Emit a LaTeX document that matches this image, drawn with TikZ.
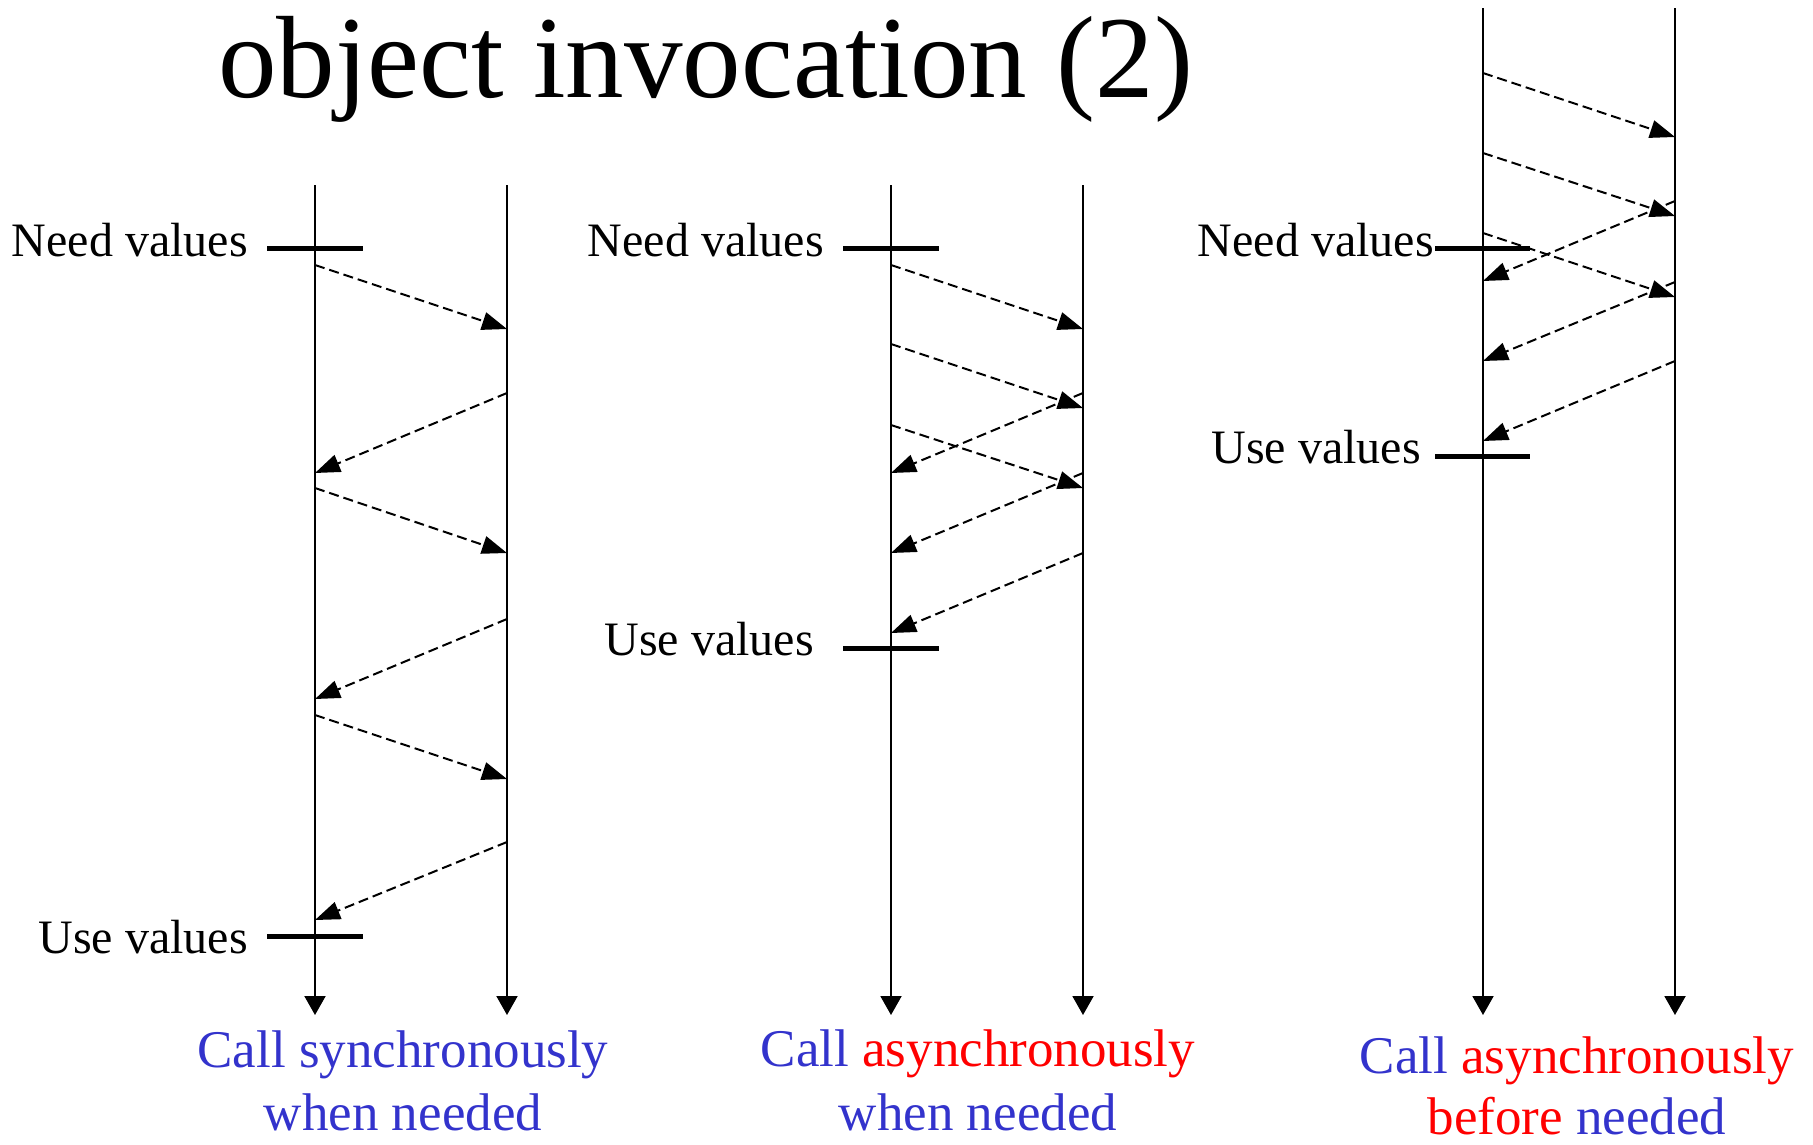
\documentclass[tikz,border=0pt]{standalone}
\usepackage{fontspec}
\setmainfont{Liberation Serif}
\usetikzlibrary{arrows.meta}
\definecolor{capblue}{RGB}{51,51,204}
\definecolor{capred}{RGB}{255,0,0}
\tikzset{
  lifeline/.style={line width=2pt,-{Triangle[length=19pt,width=21pt]}},
  msg/.style={line width=2pt,dash pattern=on 10pt off 5pt,-{Triangle[length=25pt,width=18pt]}},
  markbar/.style={line width=5pt},
  lbl/.style={anchor=base east,inner sep=0pt,font=\fontsize{48}{56}\selectfont},
  captxt/.style={anchor=base,inner sep=0pt,font=\fontsize{53}{64}\selectfont,text=capblue},
  titletxt/.style={anchor=base west,inner sep=0pt,font=\fontsize{117}{130}\selectfont}
}
\begin{document}
\begin{tikzpicture}[x=1pt,y=-1pt]
\useasboundingbox (0,0) rectangle (1813,1144);
% title
\node[titletxt] (title) at (218,97) {object invocation (2)};

% ---------- panel 1 ----------
\coordinate (p1Ltop) at (315,185); \coordinate (p1Lbot) at (315,1015);
\coordinate (p1Rtop) at (507,185); \coordinate (p1Rbot) at (507,1015);
\draw[lifeline] (p1Ltop) -- (p1Lbot);
\draw[lifeline] (p1Rtop) -- (p1Rbot);
\foreach \i/\a/\b in {1/265/329,2/488/553,3/715/779}{
  \coordinate (p1fs\i) at (315,\a); \coordinate (p1fe\i) at (507,\b);
  \draw[msg] (p1fs\i) -- (p1fe\i);}
\foreach \i/\a/\b in {1/393/473,2/619/699,3/842/920}{
  \coordinate (p1rs\i) at (507,\a); \coordinate (p1re\i) at (315,\b);
  \draw[msg] (p1rs\i) -- (p1re\i);}
\coordinate (p1n1) at (267,248); \coordinate (p1n2) at (363,248);
\draw[markbar] (p1n1) -- (p1n2);
\coordinate (p1u1) at (267,936); \coordinate (p1u2) at (363,936);
\draw[markbar] (p1u1) -- (p1u2);
\node[lbl] (p1need) at (248,256) {Need values};
\node[lbl] (p1use) at (248,953) {Use values};
\node[captxt] (p1cap1) at (403,1067) {Call synchronously};
\node[captxt] (p1cap2) at (403,1130) {when needed};

% ---------- panel 2 ----------
\coordinate (p2Ltop) at (891,185); \coordinate (p2Lbot) at (891,1015);
\coordinate (p2Rtop) at (1083,185); \coordinate (p2Rbot) at (1083,1015);
\draw[lifeline] (p2Ltop) -- (p2Lbot);
\draw[lifeline] (p2Rtop) -- (p2Rbot);
\foreach \i/\a/\b in {1/265/329,2/344/408,3/425/488}{
  \coordinate (p2fs\i) at (891,\a); \coordinate (p2fe\i) at (1083,\b);
  \draw[msg] (p2fs\i) -- (p2fe\i);}
\foreach \i/\a/\b in {1/393/473,2/473/553,3/553/633}{
  \coordinate (p2rs\i) at (1083,\a); \coordinate (p2re\i) at (891,\b);
  \draw[msg] (p2rs\i) -- (p2re\i);}
\coordinate (p2n1) at (843,248); \coordinate (p2n2) at (939,248);
\draw[markbar] (p2n1) -- (p2n2);
\coordinate (p2u1) at (843,648); \coordinate (p2u2) at (939,648);
\draw[markbar] (p2u1) -- (p2u2);
\node[lbl] (p2need) at (824,256) {Need values};
\node[lbl] (p2use) at (814,655) {Use values};
\node[captxt] (p2cap1) at (978,1066) {Call \textcolor{capred}{asynchronously}};
\node[captxt] (p2cap2) at (978,1130) {when needed};

% ---------- panel 3 ----------
\coordinate (p3Ltop) at (1483,8); \coordinate (p3Lbot) at (1483,1015);
\coordinate (p3Rtop) at (1675,8); \coordinate (p3Rbot) at (1675,1015);
\draw[lifeline] (p3Ltop) -- (p3Lbot);
\draw[lifeline] (p3Rtop) -- (p3Rbot);
\foreach \i/\a/\b in {1/73/137,2/153/216,3/233/297}{
  \coordinate (p3fs\i) at (1483,\a); \coordinate (p3fe\i) at (1675,\b);
  \draw[msg] (p3fs\i) -- (p3fe\i);}
\foreach \i/\a/\b in {1/201/281,2/282/361,3/361/441}{
  \coordinate (p3rs\i) at (1675,\a); \coordinate (p3re\i) at (1483,\b);
  \draw[msg] (p3rs\i) -- (p3re\i);}
\coordinate (p3n1) at (1435,248); \coordinate (p3n2) at (1530,248);
\draw[markbar] (p3n1) -- (p3n2);
\coordinate (p3u1) at (1435,456); \coordinate (p3u2) at (1530,456);
\draw[markbar] (p3u1) -- (p3u2);
\node[lbl] (p3need) at (1434,256) {Need values};
\node[lbl] (p3use) at (1421,463) {Use values};
\node[captxt] (p3cap1) at (1577,1073) {Call \textcolor{capred}{asynchronously}};
\node[captxt] (p3cap2) at (1577,1134) {\textcolor{capred}{before} needed};
\end{tikzpicture}
\end{document}
